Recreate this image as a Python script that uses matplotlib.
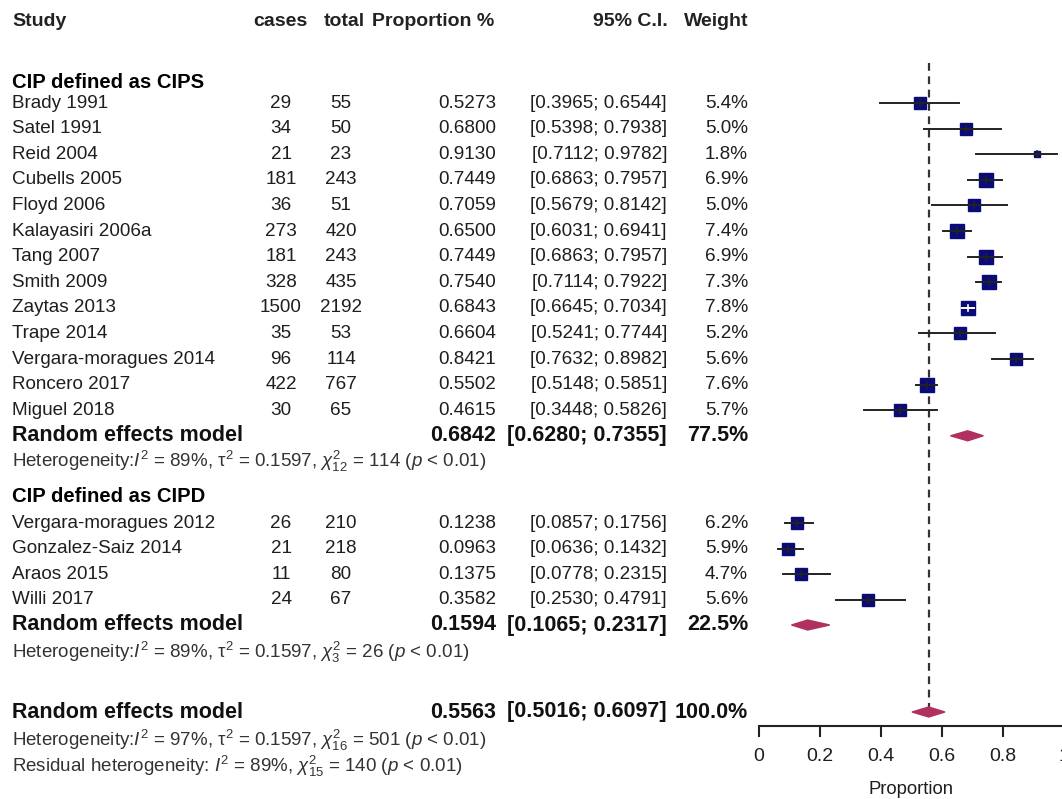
import numpy as np
import matplotlib.pyplot as plt
from matplotlib.patches import Polygon

plt.rcParams['font.family'] = ['Liberation Sans', 'DejaVu Sans']
plt.rcParams['mathtext.fontset'] = 'custom'
plt.rcParams['mathtext.rm'] = 'Liberation Sans'
plt.rcParams['mathtext.it'] = 'Liberation Sans:italic'
plt.rcParams['mathtext.bf'] = 'Liberation Sans:bold'

# ---- data: subgroup 1 (CIPS)
studies1 = ['Brady 1991', 'Satel 1991', 'Reid 2004', 'Cubells 2005', 'Floyd 2006',
            'Kalayasiri 2006a', 'Tang 2007', 'Smith 2009', 'Zaytas 2013', 'Trape 2014',
            'Vergara-moragues 2014', 'Roncero 2017', 'Miguel 2018']
cases1 = [29, 34, 21, 181, 36, 273, 181, 328, 1500, 35, 96, 422, 30]
total1 = [55, 50, 23, 243, 51, 420, 243, 435, 2192, 53, 114, 767, 65]
prop1 = [0.5273, 0.6800, 0.9130, 0.7449, 0.7059, 0.6500, 0.7449, 0.7540, 0.6843, 0.6604, 0.8421, 0.5502, 0.4615]
lo1 = [0.3965, 0.5398, 0.7112, 0.6863, 0.5679, 0.6031, 0.6863, 0.7114, 0.6645, 0.5241, 0.7632, 0.5148, 0.3448]
hi1 = [0.6544, 0.7938, 0.9782, 0.7957, 0.8142, 0.6941, 0.7957, 0.7922, 0.7034, 0.7744, 0.8982, 0.5851, 0.5826]
w1 = [5.4, 5.0, 1.8, 6.9, 5.0, 7.4, 6.9, 7.3, 7.8, 5.2, 5.6, 7.6, 5.7]

# ---- data: subgroup 2 (CIPD)
studies2 = ['Vergara-moragues 2012', 'Gonzalez-Saiz 2014', 'Araos 2015', 'Willi 2017']
cases2 = [26, 21, 11, 24]
total2 = [210, 218, 80, 67]
prop2 = [0.1238, 0.0963, 0.1375, 0.3582]
lo2 = [0.0857, 0.0636, 0.0778, 0.2530]
hi2 = [0.1756, 0.1432, 0.2315, 0.4791]
w2 = [6.2, 5.9, 4.7, 5.6]

# ---- pooled estimates [est, lo, hi, weight]
re1 = [0.6842, 0.6280, 0.7355, 77.5]
re2 = [0.1594, 0.1065, 0.2317, 22.5]
re_all = [0.5563, 0.5016, 0.6097, 100.0]

het1 = r'Heterogeneity:$I^2$ = 89%, τ$^2$ = 0.1597, $\chi^2_{12}$ = 114 ($p$ < 0.01)'
het2 = r'Heterogeneity:$I^2$ = 89%, τ$^2$ = 0.1597, $\chi^2_{3}$ = 26 ($p$ < 0.01)'
het_all = r'Heterogeneity:$I^2$ = 97%, τ$^2$ = 0.1597, $\chi^2_{16}$ = 501 ($p$ < 0.01)'
resid = r'Residual heterogeneity: $I^2$ = 89%, $\chi^2_{15}$ = 140 ($p$ < 0.01)'

# ---- layout (pixel rows)
step = 25.6
rows1 = [103 + step*i for i in range(len(studies1))]
y_re1 = 103 + step*13
y_het1 = y_re1 + 26
y_hdr2 = 497
rows2 = [523 + step*i for i in range(len(studies2))]
y_re2 = 625
y_het2 = 652
y_all = 712
y_hetall = 740
y_resid = 766

TXT = '#1e1e1e'
SQ = '#0b0b78'
DIA = '#b03060'
HET = 13.5

fig = plt.figure(figsize=(10.62, 7.99), dpi=100)
tx = fig.add_axes([0, 0, 1, 1])
tx.set_xlim(0, 1062)
tx.set_ylim(799, 0)
tx.axis('off')

fx = fig.add_axes([759/1062, 0, 305/1062, 1])
fx.set_xlim(0, 1)
fx.set_ylim(799, 0)
fx.patch.set_alpha(0)

# header
for name, x, ha in [('Study', 12, 'left'), ('cases', 308, 'right'), ('total', 365, 'right'),
                     ('Proportion %', 494, 'right'), ('95% C.I.', 668, 'right'), ('Weight', 748, 'right')]:
    tx.text(x, 22, name, ha=ha, va='center', fontsize=14, fontweight='bold', color='#222222')

def study_rows(names, cs, ts, ps, ls, hs, ws, ys):
    for n, c, t, p, l, h, w, y in zip(names, cs, ts, ps, ls, hs, ws, ys):
        kw = dict(va='center', fontsize=13.6, color=TXT)
        tx.text(12, y, n, ha='left', **kw)
        tx.text(281, y, str(c), ha='center', **kw)
        tx.text(341, y, str(t), ha='center', **kw)
        tx.text(496, y, f'{p:.4f}', ha='right', **kw)
        tx.text(667, y, f'[{l:.4f}; {h:.4f}]', ha='right', **kw)
        tx.text(748, y, f'{w:.1f}%', ha='right', **kw)
        side = 5.1*np.sqrt(w)
        half = side/2/305
        lc = 'white' if (p - l) < half and (h - p) < half else '#222222'
        fx.plot(p, y, marker='s', ms=side*0.72, color=SQ, mec=SQ, zorder=2)
        fx.plot([l, h], [y, y], color=lc, lw=1.4, zorder=3)
        fx.plot([p, p], [y - 3, y + 3], color=lc, lw=1.2, zorder=3)

def pooled_row(vals, y):
    est, l, h, w = vals
    kw = dict(va='center', fontsize=15.5, fontweight='bold', color='#111111')
    tx.text(12, y, 'Random effects model', ha='left', **kw)
    tx.text(496, y, f'{est:.4f}', ha='right', **kw)
    tx.text(667, y, f'[{l:.4f}; {h:.4f}]', ha='right', **kw)
    tx.text(748, y, f'{w:.1f}%', ha='right', **kw)
    fx.add_patch(Polygon([(l, y), (est, y - 5), (h, y), (est, y + 5)],
                         closed=True, color=DIA, zorder=3))

tx.text(12, 82, 'CIP defined as CIPS', ha='left', va='center', fontsize=14.6, fontweight='bold', color='#000000')
study_rows(studies1, cases1, total1, prop1, lo1, hi1, w1, rows1)
pooled_row(re1, y_re1)
tx.text(12, y_het1, het1, ha='left', va='center', fontsize=HET, color='#333333')

tx.text(12, y_hdr2, 'CIP defined as CIPD', ha='left', va='center', fontsize=14.6, fontweight='bold', color='#000000')
study_rows(studies2, cases2, total2, prop2, lo2, hi2, w2, rows2)
pooled_row(re2, y_re2)
tx.text(12, y_het2, het2, ha='left', va='center', fontsize=HET, color='#333333')

pooled_row(re_all, y_all)
tx.text(12, y_hetall, het_all, ha='left', va='center', fontsize=HET, color='#333333')
tx.text(12, y_resid, resid, ha='left', va='center', fontsize=HET, color='#333333')

# reference line at overall estimate
fx.plot([re_all[0], re_all[0]], [63, y_all], color='#333333', lw=1.6, ls=(0, (3.5, 2.5)), zorder=1)

# axis
for s in ['top', 'right', 'left']:
    fx.spines[s].set_visible(False)
fx.spines['bottom'].set_position(('data', 726))
fx.spines['bottom'].set_linewidth(1.5)
fx.spines['bottom'].set_color('#222222')
fx.set_yticks([])
fx.set_xticks([0, 0.2, 0.4, 0.6, 0.8, 1])
fx.set_xticklabels(['0', '0.2', '0.4', '0.6', '0.8', '1'])
fx.tick_params(axis='x', direction='out', length=8, width=1.5, color='#222222',
               labelsize=14, labelcolor=TXT, pad=8)
tx.text(911, 790, 'Proportion', ha='center', va='center', fontsize=13.3, color=TXT)

fig.savefig('out.png', dpi=100)
